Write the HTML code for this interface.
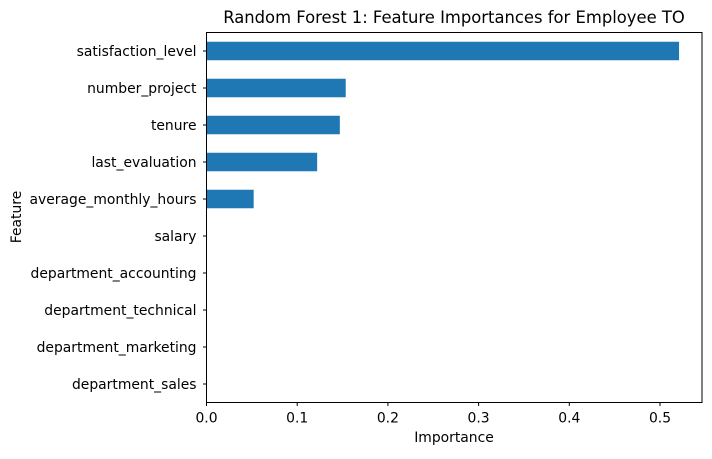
<!DOCTYPE html>
<html><head><meta charset="utf-8"><style>
body{margin:0;background:#fff;font-family:"DejaVu Sans","Liberation Sans",sans-serif;}
svg text{font-family:"DejaVu Sans","Liberation Sans",sans-serif;fill:#000;}
</style></head><body>
<svg id="chart" width="712" height="455">
<text x="454" y="23" font-size="16.4" text-anchor="middle">Random Forest 1: Feature Importances for Employee TO</text>
<g id="bars"></g><g id="yticks"></g><g id="xticks"></g>
<rect x="206.5" y="32.5" width="495.5" height="370" fill="none" stroke="#000" stroke-width="1"/>
<text x="454" y="442" font-size="13.9" text-anchor="middle">Importance</text>
<text x="21" y="217" font-size="13.9" text-anchor="middle" transform="rotate(-90 21 217)">Feature</text>
</svg>
<script>
const features=["satisfaction_level","number_project","tenure","last_evaluation","average_monthly_hours","salary","department_accounting","department_technical","department_marketing","department_sales"];
const importances=[0.521,0.1535,0.147,0.122,0.052,0,0,0,0,0];
const xTicks=[0,0.1,0.2,0.3,0.4,0.5];
const xTickLabels=["0.0","0.1","0.2","0.3","0.4","0.5"];
const NS="http://www.w3.org/2000/svg";
const L=206.5,R=702,T=32.5,B=402.5,XMAX=0.5463;
const xs=v=>L+v/XMAX*(R-L);
const step=(B-T)/features.length;
const ys=i=>T+(i+0.5)*step;
function mk(t,a,p){const e=document.createElementNS(NS,t);for(const k in a)e.setAttribute(k,a[k]);p.appendChild(e);return e;}
const gb=document.getElementById('bars'),gy=document.getElementById('yticks'),gx=document.getElementById('xticks');
features.forEach((f,i)=>{
  const w=xs(importances[i])-L;
  const r=mk('rect',{x:L,y:ys(i)-step*0.25,width:Math.max(w,0),height:step*0.5,fill:'#1f77b4'},gb);
  
  
  const tl=mk('line',{x1:L-3.5,x2:L,y1:ys(i),y2:ys(i),stroke:'#000'},gy);
  
  
  const t=mk('text',{x:L-10,y:ys(i)+5,'font-size':13.9,'text-anchor':'end'},gy);
  t.textContent=f;
  
  
});
xTicks.forEach((v,i)=>{
  const tl=mk('line',{x1:xs(v),x2:xs(v),y1:B,y2:B+3.5,stroke:'#000'},gx);
  
  
  const t=mk('text',{x:xs(v),y:B+20,'font-size':13.9,'text-anchor':'middle'},gx);
  t.textContent=xTickLabels[i];
  
  
});
</script>
</body></html>
